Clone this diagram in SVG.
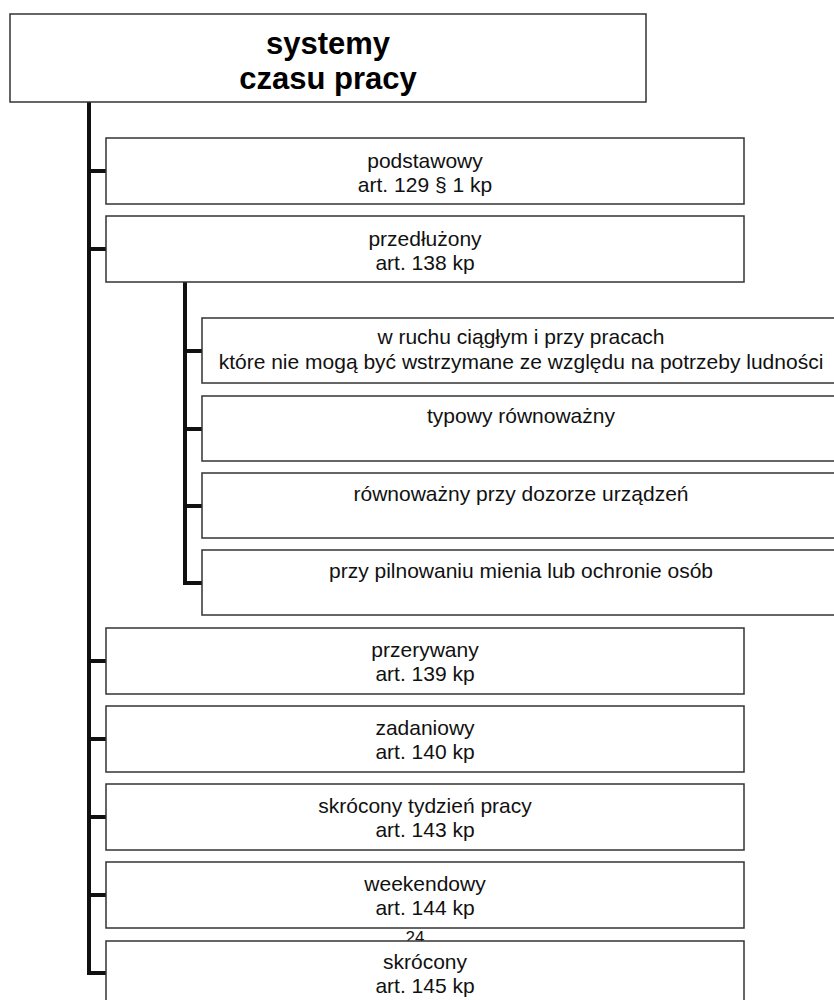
<svg xmlns="http://www.w3.org/2000/svg" width="834" height="1000" viewBox="0 0 834 1000">
<style>
.box{fill:#fff;stroke:#333;stroke-width:1.5}
.t{font-family:"Liberation Sans",Arial,sans-serif;font-size:21px;fill:#111;text-anchor:middle}
.title{font-family:"Liberation Sans",Arial,sans-serif;font-size:31px;font-weight:bold;fill:#000;text-anchor:middle}
.pg{font-family:"Liberation Sans",Arial,sans-serif;font-size:17px;fill:#111;text-anchor:middle}
.c{stroke:#111;stroke-width:4;fill:none}
</style>
<rect width="834" height="1000" fill="#fff"/>
<g id="connectors">
<path class="c" d="M89,102 V975 M87,171 H106 M87,249 H106 M87,661 H106 M87,739 H106 M87,817 H106 M87,895 H106 M87,973 H106"/>
<path class="c" d="M185,282 V585 M183,351 H202 M183,429 H202 M183,506 H202 M183,583 H202"/>
</g>
<g id="root">
<rect class="box" x="10" y="14" width="636" height="88"/>
<text class="title" x="328" y="54">systemy</text>
<text class="title" x="328" y="89">czasu pracy</text>
</g>
<g id="n1">
<rect class="box" x="106" y="138" width="638" height="66"/>
<text class="t" x="425" y="168">podstawowy</text>
<text class="t" x="425" y="192">art. 129 § 1 kp</text>
</g>
<g id="n2">
<rect class="box" x="106" y="216" width="638" height="66"/>
<text class="t" x="425" y="246">przedłużony</text>
<text class="t" x="425" y="270">art. 138 kp</text>
</g>
<g id="n2a">
<rect class="box" x="202" y="318" width="640" height="65"/>
<text class="t" x="521" y="344">w ruchu ciągłym i przy pracach</text>
<text class="t" x="521" y="369">które nie mogą być wstrzymane ze względu na potrzeby ludności</text>
</g>
<g id="n2b">
<rect class="box" x="202" y="396" width="640" height="65"/>
<text class="t" x="521" y="423">typowy równoważny</text>
</g>
<g id="n2c">
<rect class="box" x="202" y="473" width="640" height="65"/>
<text class="t" x="521" y="501">równoważny przy dozorze urządzeń</text>
</g>
<g id="n2d">
<rect class="box" x="202" y="550" width="640" height="65"/>
<text class="t" x="521" y="578">przy pilnowaniu mienia lub ochronie osób</text>
</g>
<g id="n3">
<rect class="box" x="106" y="628" width="638" height="66"/>
<text class="t" x="425" y="657">przerywany</text>
<text class="t" x="425" y="681">art. 139 kp</text>
</g>
<g id="n4">
<rect class="box" x="106" y="706" width="638" height="66"/>
<text class="t" x="425" y="735">zadaniowy</text>
<text class="t" x="425" y="759">art. 140 kp</text>
</g>
<g id="n5">
<rect class="box" x="106" y="784" width="638" height="66"/>
<text class="t" x="425" y="813">skrócony tydzień pracy</text>
<text class="t" x="425" y="837">art. 143 kp</text>
</g>
<g id="n6">
<rect class="box" x="106" y="862" width="638" height="66"/>
<text class="t" x="425" y="891">weekendowy</text>
<text class="t" x="425" y="915">art. 144 kp</text>
</g>
<text class="pg" x="415" y="943">24</text>
<g id="n7">
<rect class="box" x="106" y="941" width="638" height="66"/>
<text class="t" x="425" y="969">skrócony</text>
<text class="t" x="425" y="993">art. 145 kp</text>
</g>
</svg>
